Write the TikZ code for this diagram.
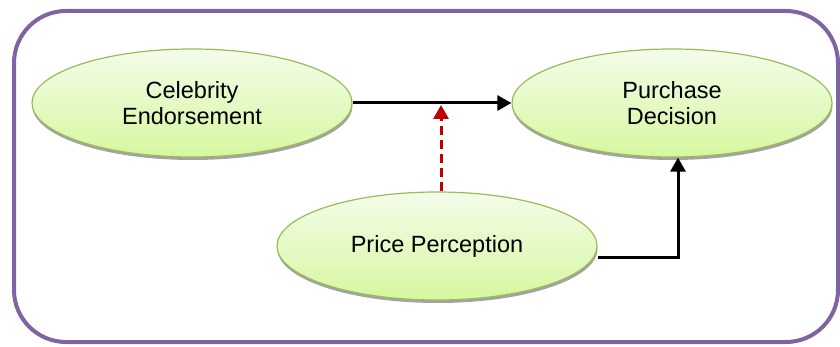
\documentclass[tikz,border=0pt]{standalone}
\usepackage{fontspec}
\setmainfont{Liberation Sans}
\usetikzlibrary{shapes.geometric,arrows.meta,shadows}
\definecolor{framepurple}{HTML}{8064A2}
\definecolor{ellborder}{HTML}{9BBB59}
\definecolor{elltop}{HTML}{F4FCEA}
\definecolor{ellbot}{HTML}{D6F7A0}
\definecolor{darkred}{HTML}{C00000}
\tikzset{
  concept/.style={ellipse, draw=ellborder, line width=1.2pt,
    top color=elltop, bottom color=ellbot,
    minimum width=320pt, minimum height=108pt, inner sep=0pt,
    align=center, font=\fontsize{23.5}{26}\selectfont,
    drop shadow={shadow xshift=0.5pt, shadow yshift=-3pt, fill=black!45, opacity=0.8}},
  link/.style={line width=3pt, -{Triangle[length=14pt,width=15pt]}},
  modlink/.style={link, darkred, dash pattern=on 9pt off 5pt},
}
\begin{document}
\begin{tikzpicture}[x=1pt,y=-1pt]
\useasboundingbox (0,0) rectangle (840,347);
\draw[framepurple, line width=4pt, rounded corners=52pt] (14,11) rectangle (838,342);
\node[concept] (ce) at (192,103) {Celebrity\\Endorsement};
\node[concept] (pd) at (672,103) {Purchase\\Decision};
\node[concept] (pp) at (437,246) {Price Perception};
\draw[link] (ce.east) -- (pd.west);
\coordinate (midp) at (441,105);
\draw[modlink] (pp.north -| midp) -- (midp);
\draw[link] (pp.east |- 0,258) -| (pd.south -| 678,0);
\end{tikzpicture}
\end{document}
